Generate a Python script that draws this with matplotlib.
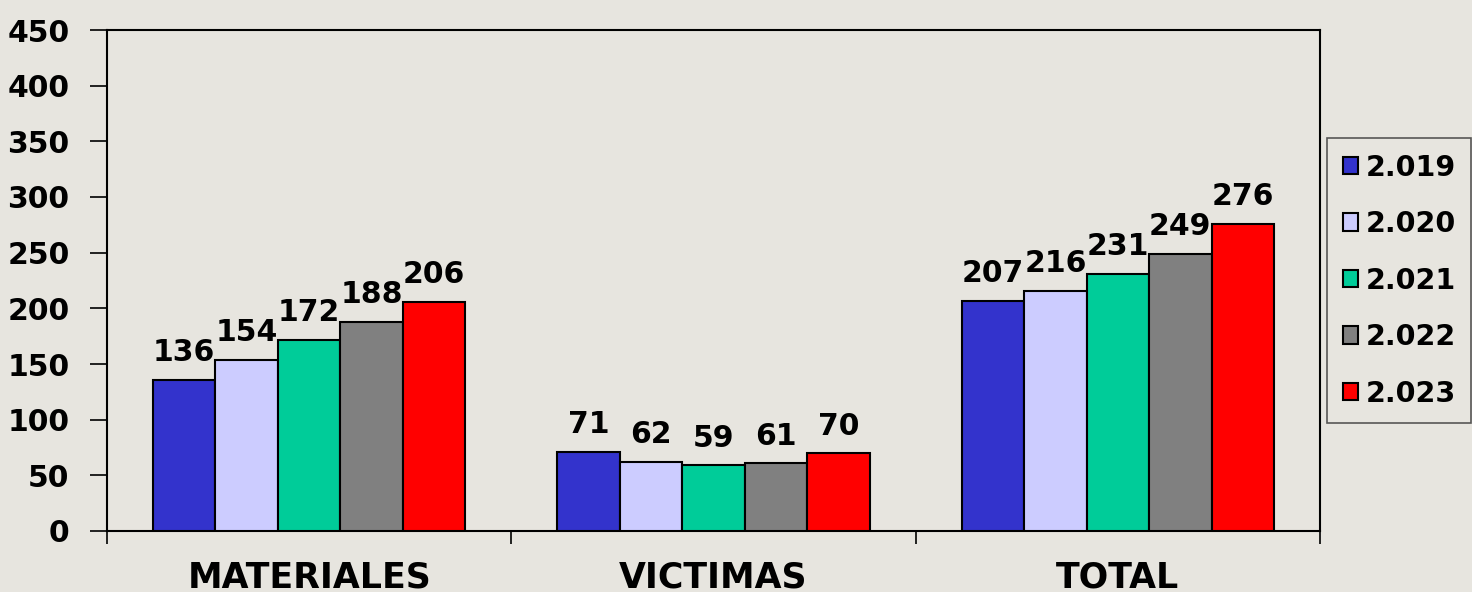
import matplotlib
matplotlib.use("Agg")
import matplotlib.pyplot as plt
import numpy as np

categories = ["MATERIALES", "VICTIMAS", "TOTAL"]
years = ["2.019", "2.020", "2.021", "2.022", "2.023"]
values = {
    "2.019": [136, 71, 207],
    "2.020": [154, 62, 216],
    "2.021": [172, 59, 231],
    "2.022": [188, 61, 249],
    "2.023": [206, 70, 276],
}
colors = ["#3333cc", "#ccccff", "#00cc99", "#808080", "#ff0000"]
yticks = [0, 50, 100, 150, 200, 250, 300, 350, 400, 450]

plt.rcParams['font.family'] = ['DejaVu Sans']
plt.rcParams['font.weight'] = 'bold'

bg = "#e7e5df"
fig = plt.figure(figsize=(14.72, 5.92), dpi=100, facecolor=bg)
ax = fig.add_axes([107/1472, 1-531/592, (1320-107)/1472, (531-30)/592])
ax.set_facecolor(bg)

x = np.arange(len(categories))
bw = 0.1545
n = len(years)
for i, (yr, c) in enumerate(zip(years, colors)):
    offs = (i - (n-1)/2) * bw
    bars = ax.bar(x + offs, values[yr], width=bw, color=c, edgecolor="black",
                  linewidth=1.5, label=yr, zorder=3)
    for b, v in zip(bars, values[yr]):
        ax.annotate(str(v), (b.get_x() + b.get_width()/2, b.get_height()),
                    xytext=(0, 9), textcoords="offset points", ha="center", va="bottom",
                    fontsize=21.5, fontweight="bold", color="black")

ax.set_xlim(-0.5, len(categories)-0.5)
ax.set_ylim(0, 450)
ax.set_yticks(yticks)
ax.set_yticklabels([str(v) for v in yticks], fontsize=21.5, fontweight="bold")
ax.set_xticks(x)
ax.set_xticklabels(categories, fontsize=25, fontweight="bold")
ax.tick_params(axis="x", which="major", length=0, pad=21)
ax.set_xticks(np.arange(len(categories)+1) - 0.5, minor=True)
ax.tick_params(axis="x", which="minor", length=9, width=1.2, direction="out")
ax.tick_params(axis="y", length=12, width=1.2, direction="out", pad=15)
for s in ax.spines.values():
    s.set_linewidth(1.5)
    s.set_color("black")

leg = ax.legend(loc="upper left", bbox_to_anchor=(1327/1472, 1-138/592),
                bbox_transform=fig.transFigure, frameon=True, fancybox=False,
                prop={"weight": "bold", "size": 20.5},
                handlelength=0.55, handleheight=0.55, handletextpad=0.25,
                labelspacing=1.0, borderpad=0.55, borderaxespad=0)
leg.get_frame().set_edgecolor("#333333")
leg.get_frame().set_facecolor(bg)
leg.get_frame().set_linewidth(1.2)

fig.savefig("out.png", dpi=100, facecolor=bg)
